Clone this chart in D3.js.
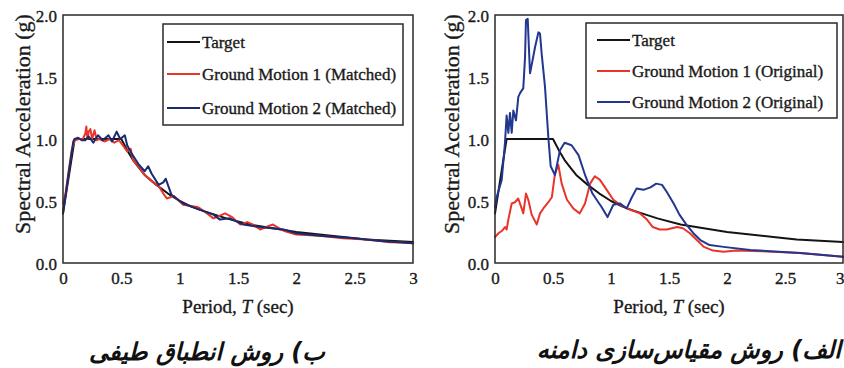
<!DOCTYPE html>
<html>
<head>
<meta charset="utf-8">
<script src="https://cdn.jsdelivr.net/npm/d3@7"></script>
<style>
  html, body { margin: 0; padding: 0; background: #ffffff; }
  svg { display: block; }
</style>
</head>
<body>
<svg id="chart" width="844" height="368"></svg>
<script>
// ---------------- DATA ----------------
const xTickValues = [0, 0.5, 1, 1.5, 2, 2.5, 3];
const xTickLabels = ["0", "0.5", "1", "1.5", "2", "2.5", "3"];
const yTickValues = [0, 0.5, 1, 1.5, 2];
const yTickLabels = ["0.0", "0.5", "1.0", "1.5", "2.0"];

// Target spectrum (both panels)
const targetT  = [0, 0.1, 0.5, 0.55, 0.6, 0.65, 0.7, 0.8, 0.9, 1.0, 1.1, 1.2, 1.4, 1.6, 1.8, 2.0, 2.2, 2.4, 2.6, 2.8, 3.0];
const targetSa = [0.4, 1.0, 1.0, 0.91, 0.83, 0.77, 0.71, 0.63, 0.56, 0.5, 0.455, 0.42, 0.36, 0.31, 0.28, 0.25, 0.23, 0.21, 0.19, 0.18, 0.17];

// Left panel: matched motions
const gm1MatchedT  = [0, 0.02, 0.05, 0.075, 0.10, 0.14, 0.17, 0.19, 0.20, 0.21, 0.22, 0.235, 0.25, 0.27, 0.29, 0.31, 0.36, 0.40, 0.44, 0.48, 0.52, 0.55, 0.58, 0.60, 0.645, 0.69, 0.76, 0.82, 0.86, 0.89, 0.95, 1.03, 1.10, 1.16, 1.22, 1.29, 1.34, 1.39, 1.45, 1.52, 1.58, 1.63, 1.69, 1.74, 1.80, 1.89, 2.0, 2.2, 2.4, 2.6, 2.7, 2.8, 2.9, 3.0];
const gm1MatchedSa = [0.48, 0.55, 0.75, 0.91, 0.99, 1.0, 1.0, 1.04, 1.10, 1.0, 1.06, 1.08, 1.0, 1.07, 0.99, 1.0, 0.98, 1.0, 0.97, 0.99, 0.94, 0.90, 0.92, 0.83, 0.78, 0.72, 0.66, 0.62, 0.56, 0.52, 0.54, 0.47, 0.46, 0.45, 0.41, 0.36, 0.38, 0.40, 0.37, 0.31, 0.33, 0.31, 0.27, 0.29, 0.31, 0.26, 0.23, 0.22, 0.20, 0.19, 0.18, 0.167, 0.165, 0.16];

const gm2MatchedT  = [0, 0.045, 0.088, 0.10, 0.13, 0.16, 0.19, 0.22, 0.26, 0.30, 0.34, 0.39, 0.42, 0.46, 0.49, 0.53, 0.55, 0.59, 0.645, 0.70, 0.73, 0.76, 0.82, 0.86, 0.88, 0.93, 1.03, 1.17, 1.29, 1.345, 1.43, 1.545, 1.69, 1.89, 2.0, 2.2, 2.5, 2.7, 3.0];
const gm2MatchedSa = [0.40, 0.70, 0.98, 1.0, 1.01, 0.99, 0.99, 1.02, 0.97, 1.03, 0.99, 1.03, 0.98, 1.06, 1.0, 1.03, 0.95, 0.88, 0.80, 0.74, 0.78, 0.72, 0.63, 0.65, 0.68, 0.55, 0.48, 0.43, 0.39, 0.35, 0.36, 0.31, 0.29, 0.27, 0.24, 0.22, 0.20, 0.18, 0.16];

// Right panel: original motions
const gm1OriginalT  = [0, 0.03, 0.06, 0.086, 0.1, 0.115, 0.144, 0.172, 0.2, 0.23, 0.244, 0.267, 0.287, 0.316, 0.36, 0.388, 0.417, 0.46, 0.49, 0.517, 0.546, 0.575, 0.62, 0.675, 0.73, 0.776, 0.82, 0.86, 0.905, 0.963, 1.02, 1.08, 1.16, 1.25, 1.31, 1.36, 1.42, 1.48, 1.57, 1.62, 1.68, 1.74, 1.80, 1.88, 1.97, 2.08, 2.3, 2.63, 3.0];
const gm1OriginalSa = [0.21, 0.24, 0.26, 0.29, 0.27, 0.35, 0.48, 0.49, 0.52, 0.44, 0.40, 0.56, 0.51, 0.39, 0.31, 0.40, 0.44, 0.49, 0.53, 0.72, 0.79, 0.64, 0.51, 0.44, 0.40, 0.48, 0.64, 0.70, 0.67, 0.59, 0.51, 0.47, 0.43, 0.40, 0.35, 0.29, 0.27, 0.27, 0.29, 0.28, 0.24, 0.185, 0.13, 0.10, 0.09, 0.10, 0.095, 0.08, 0.05];

const gm2OriginalT  = [0, 0.014, 0.058, 0.086, 0.10, 0.115, 0.129, 0.144, 0.158, 0.181, 0.201, 0.216, 0.244, 0.259, 0.267, 0.282, 0.293, 0.302, 0.325, 0.345, 0.374, 0.388, 0.402, 0.431, 0.46, 0.48, 0.517, 0.56, 0.60, 0.66, 0.72, 0.78, 0.84, 0.92, 0.97, 1.02, 1.08, 1.135, 1.18, 1.22, 1.28, 1.34, 1.39, 1.44, 1.48, 1.54, 1.59, 1.65, 1.71, 1.77, 1.85, 1.97, 2.2, 2.63, 3.0];
const gm2OriginalSa = [0.45, 0.53, 0.67, 0.97, 1.19, 1.05, 1.21, 1.05, 1.23, 1.15, 1.34, 1.37, 1.41, 1.66, 1.96, 1.97, 1.72, 1.53, 1.64, 1.74, 1.86, 1.85, 1.69, 1.42, 1.01, 0.78, 0.71, 0.91, 0.97, 0.95, 0.87, 0.70, 0.56, 0.45, 0.37, 0.47, 0.48, 0.44, 0.53, 0.60, 0.59, 0.61, 0.64, 0.63, 0.575, 0.48, 0.39, 0.31, 0.24, 0.185, 0.145, 0.13, 0.105, 0.08, 0.05];

const legendLeft  = ["Target", "Ground Motion 1 (Matched)", "Ground Motion 2 (Matched)"];
const legendRight = ["Target", "Ground Motion 1 (Original)", "Ground Motion 2 (Original)"];
const captionLeft  = "ب) روش انطباق طیفی";
const captionRight = "الف) روش مقیاس‌سازی دامنه";
const yTitle = "Spectral Acceleration (g)";

// ---------------- DRAW ----------------
const svg = d3.select("#chart");
svg.append("rect").attr("width", 844).attr("height", 368).attr("fill", "#ffffff");

const SERIF = "'Liberation Serif', 'Times New Roman', serif";
const C_BLACK = "#141414", C_RED = "#e8342a", TXT = "#1a1a1a";

function zip(t, v) { return t.map((d, i) => ({ t: d, v: v[i] })); }
function heavy(sel) { return sel.attr("fill", TXT).attr("stroke", TXT).attr("stroke-width", 0.35); }

function panel(o) {
  const x = d3.scaleLinear().domain([0, 3]).range([o.left, o.right]);
  const y = d3.scaleLinear().domain([0, 2]).range([o.bottom, o.top]);
  const g = svg.append("g");

  // axes (labels only)
  const ax = g.append("g").attr("transform", `translate(0,${o.bottom})`)
    .call(d3.axisBottom(x).tickValues(xTickValues).tickSize(0).tickPadding(9)
      .tickFormat((d, i) => xTickLabels[i]));
  const ay = g.append("g").attr("transform", `translate(${o.left},0)`)
    .call(d3.axisLeft(y).tickValues(yTickValues).tickSize(0).tickPadding(6)
      .tickFormat((d, i) => yTickLabels[i]));
  [ax, ay].forEach(a => {
    a.select(".domain").remove();
    heavy(a.selectAll("text").attr("font-family", SERIF).attr("font-size", 17));
  });
  ay.selectAll("text").attr("dy", "0.36em");
  if (o.lastTickEnd) {
    ax.selectAll("text").filter((d, i) => i === xTickValues.length - 1)
      .attr("text-anchor", "end").attr("x", 844 - o.right);
  }

  // series
  const line = d3.line().x(d => x(d.t)).y(d => y(d.v));
  o.series.forEach(s => {
    g.append("path").datum(zip(s.t, s.v))
      .attr("d", line).attr("fill", "none")
      .attr("stroke", s.color).attr("stroke-width", 2)
      .attr("stroke-linejoin", "round").attr("stroke-linecap", "round");
  });

  // frame
  g.append("rect").attr("x", o.left).attr("y", o.top)
    .attr("width", o.right - o.left).attr("height", o.bottom - o.top)
    .attr("fill", "none").attr("stroke", "#2a2a2a").attr("stroke-width", 1.5);

  // axis titles
  const xt = heavy(g.append("text").attr("x", (o.left + o.right) / 2).attr("y", o.bottom + 50)
    .attr("text-anchor", "middle").attr("font-family", SERIF).attr("font-size", 19));
  xt.append("tspan").text("Period, ");
  xt.append("tspan").attr("font-style", "italic").text("T");
  xt.append("tspan").text(" (sec)");

  heavy(g.append("text").attr("transform", `translate(${o.ytx},${o.yty}) rotate(-90)`)
    .attr("text-anchor", "middle").attr("dy", "0.35em")
    .attr("font-family", SERIF).attr("font-size", 22))
    .text(yTitle);

  // legend
  const L = o.legend;
  g.append("rect").attr("x", L.x).attr("y", L.y).attr("width", L.w).attr("height", L.h)
    .attr("fill", "#ffffff").attr("stroke", "#2a2a2a").attr("stroke-width", 1.5);
  o.series.forEach((s, i) => {
    const cy = L.rows[i];
    g.append("line").attr("x1", L.lx1).attr("x2", L.lx2).attr("y1", cy).attr("y2", cy)
      .attr("stroke", s.color).attr("stroke-width", 2);
    heavy(g.append("text").attr("x", L.lx2 + 2).attr("y", cy).attr("dy", "0.35em")
      .attr("font-family", SERIF).attr("font-size", 17))
      .text(L.labels[i]);
  });

  // caption
  const cap = g.append("text").attr("x", o.capX).attr("y", o.capY).attr("dy", "0.35em")
    .attr("text-anchor", "middle").attr("direction", "rtl")
    .attr("font-family", "'DejaVu Sans', sans-serif").attr("font-weight", "bold")
    .attr("font-style", "italic").attr("font-size", 24).attr("fill", "#111")
    .text(o.caption);
  if (o.capRight) {
    const len = cap.node().getComputedTextLength();
    cap.attr("x", o.capRight - len / 2);
  }
}

panel({
  left: 63, right: 413, top: 15, bottom: 263, ytx: 22, yty: 124,
  series: [
    { t: targetT, v: targetSa, color: C_BLACK },
    { t: gm1MatchedT, v: gm1MatchedSa, color: C_RED },
    { t: gm2MatchedT, v: gm2MatchedSa, color: "#1b2a6e" }
  ],
  legend: { x: 163, y: 24, w: 240, h: 101, lx1: 167, lx2: 200, rows: [42, 74, 108], labels: legendLeft },
  caption: captionLeft, capX: 207, capY: 352
});

panel({
  left: 495, right: 843, top: 15, bottom: 263, ytx: 451, yty: 124, lastTickEnd: true,
  series: [
    { t: targetT, v: targetSa, color: C_BLACK },
    { t: gm1OriginalT, v: gm1OriginalSa, color: C_RED },
    { t: gm2OriginalT, v: gm2OriginalSa, color: "#22378f" }
  ],
  legend: { x: 586, y: 23, w: 251, h: 95, lx1: 597, lx2: 630, rows: [40, 71, 102], labels: legendRight },
  caption: captionRight, capX: 692, capY: 350, capRight: 841
});
</script>
</body>
</html>
